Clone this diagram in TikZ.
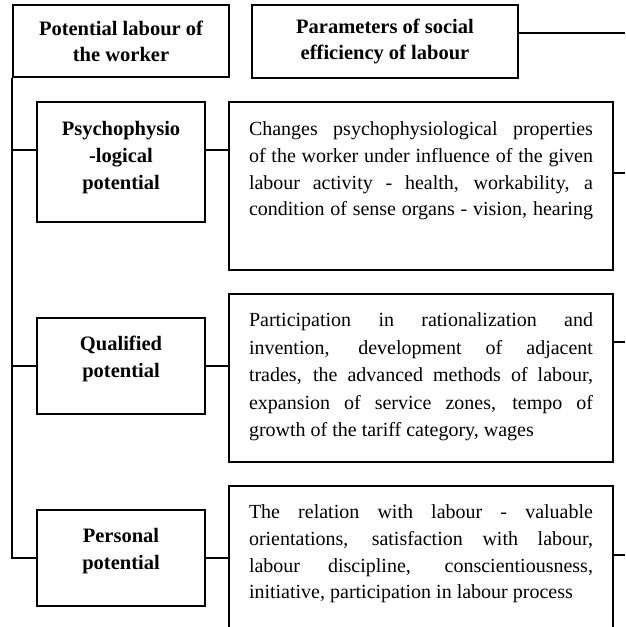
\documentclass[tikz,border=0pt]{standalone}
\usepackage{fontspec}
\setmainfont{Liberation Serif}
\newcommand\jl[1]{\makebox[344pt][s]{#1}}
\hbadness=10000
\begin{document}
\begin{tikzpicture}[x=1pt,y=-1pt,
  box/.style={draw, line width=1.8pt, inner sep=0pt},
  hd/.style={align=center, font=\fontsize{20.5}{26}\selectfont\bfseries},
  hdtxt/.style={anchor=north, inner sep=0pt, align=center, font=\fontsize{20.5}{27}\selectfont\bfseries},
  bodytxt/.style={anchor=north, inner sep=0pt, text width=344pt, align=justify, font=\fontsize{20}{26.7}\selectfont},
  conn/.style={line width=1.8pt}]
\clip (0,0) rectangle (625,627);
% top boxes
\node[box, hd, minimum width=216pt, minimum height=72pt] (A) at (121,41) {Potential labour of\\the worker};
\node[box, hd, minimum width=266pt, minimum height=73pt] (B) at (385,41.5) {Parameters of social\\efficiency of labour};
% left boxes
\node[box, minimum width=168pt, minimum height=120pt] (P1) at (121,162) {};
\node[box, minimum width=168pt, minimum height=96pt] (P2) at (121,366) {};
\node[box, minimum width=168pt, minimum height=96pt] (P3) at (121,558) {};
\node[hdtxt] (P1t) at (121,116.8) {\strut Psychophysio\\-logical\\potential};
\node[hdtxt] (P2t) at (121,331.8) {\strut Qualified\\potential};
\node[hdtxt] (P3t) at (121,523.8) {\strut Personal\\potential};
% right boxes
\node[box, minimum width=384pt, minimum height=168pt] (R1) at (421,186) {};
\node[box, minimum width=384pt, minimum height=168pt] (R2) at (421,378) {};
\node[box, minimum width=384pt, minimum height=220pt] (R3) at (421,596) {};
\node[bodytxt] (R1t) at (421,116.8) {\jl{\strut Changes psychophysiological properties}\\
\jl{of the worker under influence of the given}\\
\jl{labour activity - health, workability, a}\\
\jl{condition of sense organs - vision, hearing}};
\node[bodytxt, font=\fontsize{20}{27.5}\selectfont] (R2t) at (421,307.3) {\jl{\strut Participation in rationalization and}\\
\jl{invention, development of adjacent}\\
\jl{trades, the advanced methods of labour,}\\
\jl{expansion of service zones, tempo of}\\
\strut growth of the tariff category, wages};
\node[bodytxt] (R3t) at (421,499.8) {\jl{\strut The relation with labour - valuable}\\
\jl{orientations, satisfaction with labour,}\\
\jl{labour discipline, conscientiousness,}\\
\strut initiative, participation in labour process};
% left spine
\coordinate (c1) at ([yshift=12pt]P1.west);
\coordinate (d1) at ([yshift=12pt]P1.east);
\draw[conn] (A.south west) |- (P3.west);
\draw[conn] (A.south west |- c1) -- (c1);
\draw[conn] (A.south west |- P2.west) -- (P2.west);
% left to right connectors
\draw[conn] (d1) -- (d1 -| R1.west);
\draw[conn] (P2.east) -- (P2.east -| R2.west);
\draw[conn] (P3.east) -- (P3.east -| R3.west);
% right stubs
\coordinate (eB) at (625,33);
\coordinate (e1) at (625,173);
\coordinate (e2) at (625,342);
\coordinate (e3) at (625,555);
\draw[conn] (B.east |- eB) -- (eB);
\draw[conn] (R1.east |- e1) -- (e1);
\draw[conn] (R2.east |- e2) -- (e2);
\draw[conn] (R3.east |- e3) -- (e3);
\end{tikzpicture}
\end{document}
